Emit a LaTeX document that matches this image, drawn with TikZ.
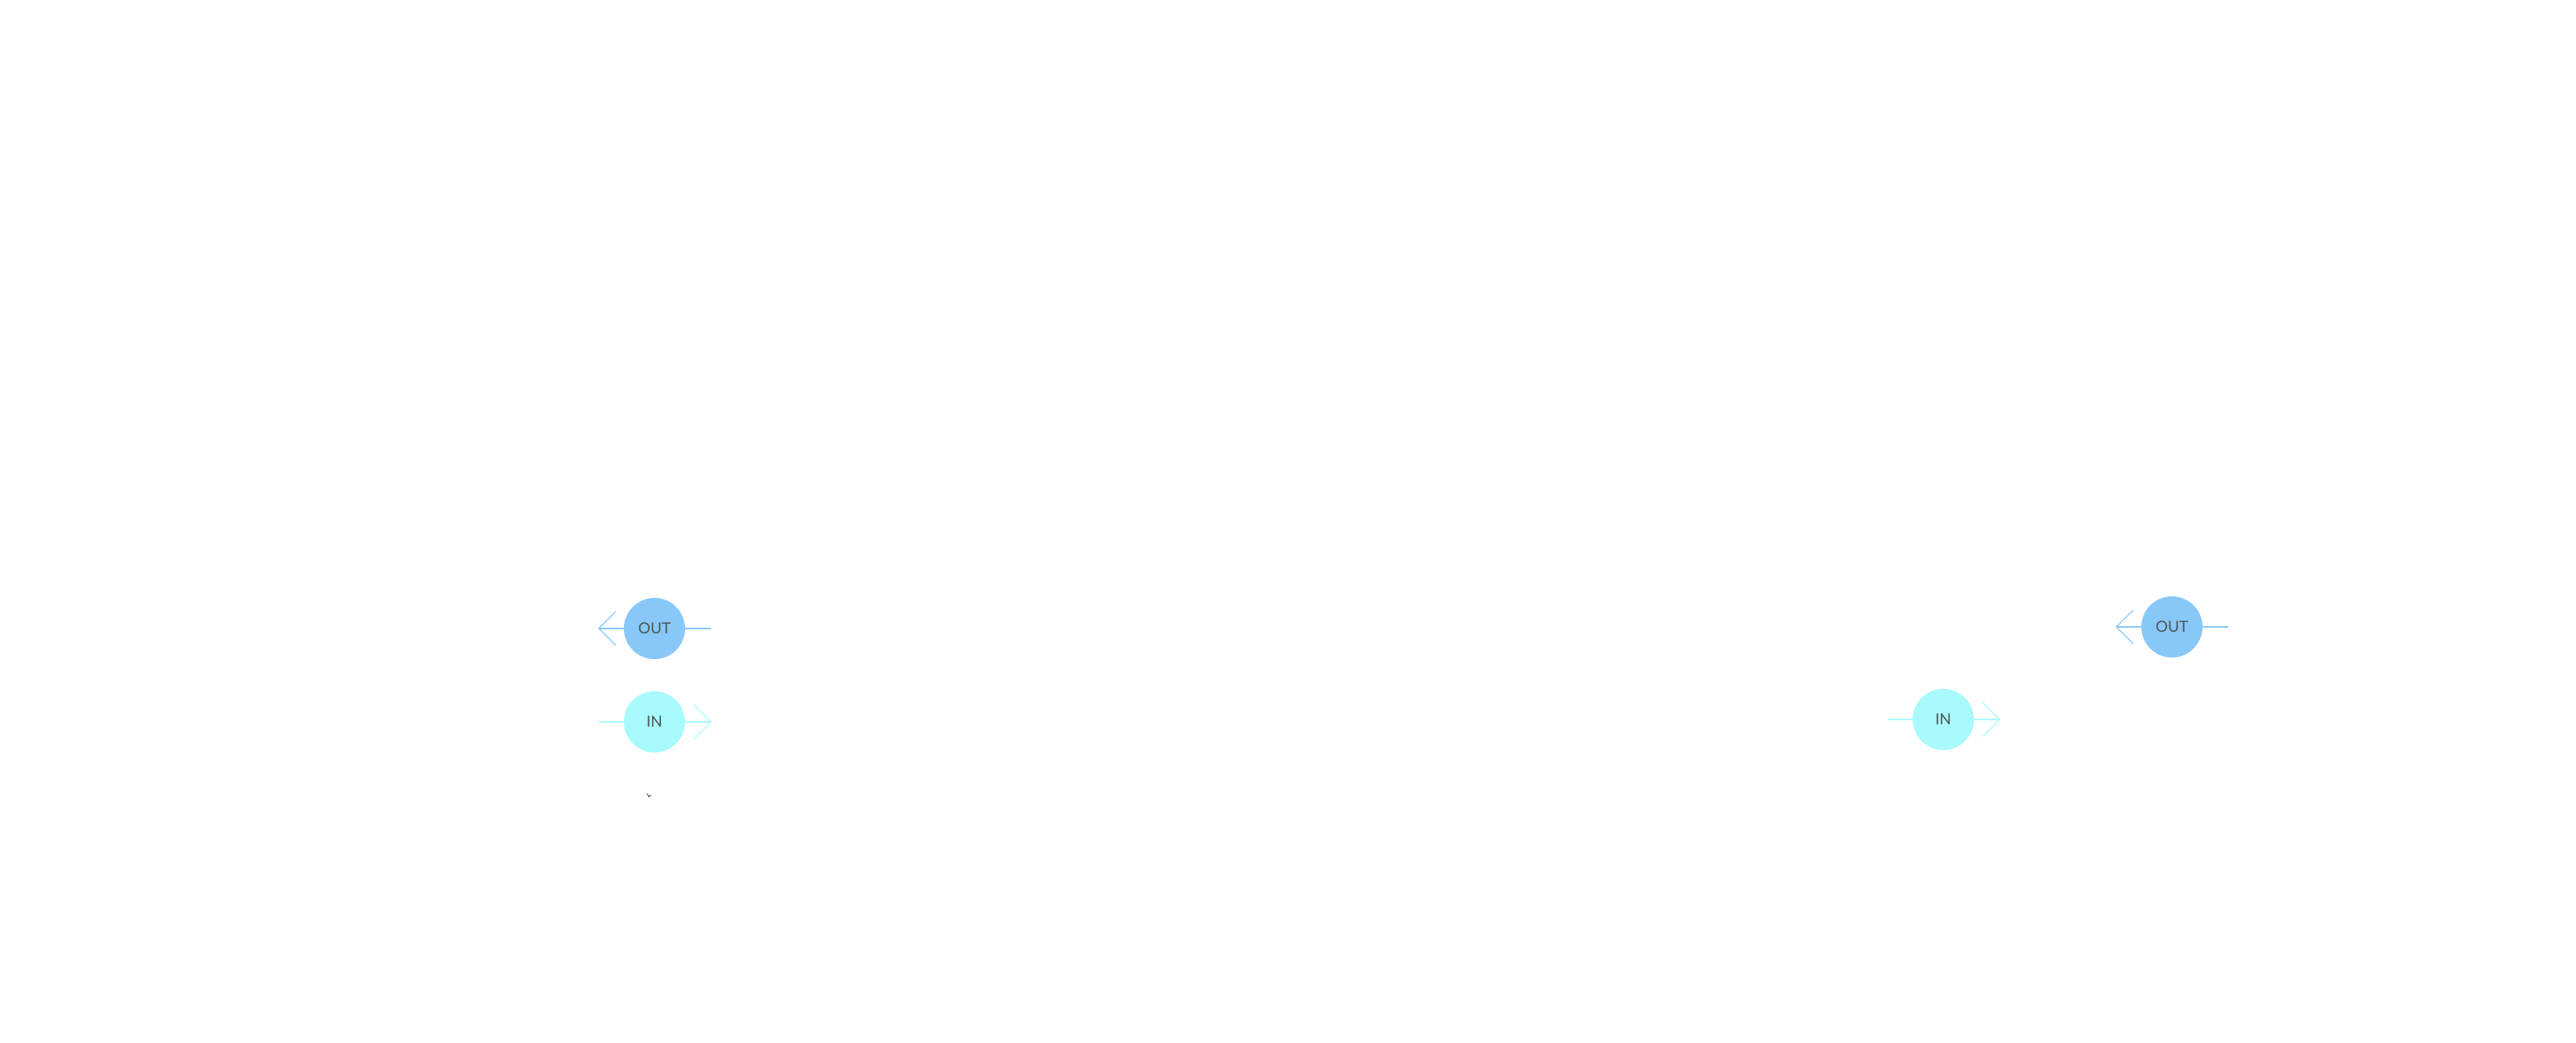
\documentclass[tikz,border=0pt]{standalone}
\usepackage{fontspec}
\setmainfont{Lato}
\usetikzlibrary{arrows.meta, positioning}
\definecolor{outblue}{HTML}{88C8F8}
\definecolor{incyan}{HTML}{A8FAFC}
\definecolor{labelgray}{HTML}{4A5858}
\tikzset{
  port/.style={circle, minimum size=0.76cm, inner sep=0pt, text=labelgray, font=\fontsize{5.4}{6}\selectfont},
  outport/.style={port, fill=outblue},
  inport/.style={port, fill=incyan},
  flow/.style={line width=0.35pt, -{Straight Barb[length=0.21cm, width=0.42cm, line width=0.35pt]}}
}
\begin{document}
\begin{tikzpicture}[x=1cm, y=1cm]
\useasboundingbox (0,0) rectangle (32,12.96);

% Left pair
\coordinate (loutR) at (8.83,5.15);
\coordinate (loutL) at (7.43,5.15);
\coordinate (linL) at (7.44,3.99);
\coordinate (linR) at (8.84,3.99);
\draw[flow, outblue] (loutR) -- (loutL);
\draw[flow, incyan] (linL) -- (linR);
\node[outport] (lout) at (8.13,5.15) {OUT};
\node[inport] (lin) at (8.13,3.99) {IN};

% Right pair
\coordinate (routR) at (27.68,5.17);
\coordinate (routL) at (26.28,5.17);
\coordinate (rinL) at (23.45,4.02);
\coordinate (rinR) at (24.85,4.02);
\draw[flow, outblue] (routR) -- (routL);
\draw[flow, incyan] (rinL) -- (rinR);
\node[outport] (rout) at (26.98,5.17) {OUT};
\node[inport] (rin) at (24.14,4.02) {IN};

% Small mark
\draw[labelgray, line width=0.3pt] (8.04,3.1) -- (8.06,3.06) -- (8.09,3.08);
\end{tikzpicture}
\end{document}
